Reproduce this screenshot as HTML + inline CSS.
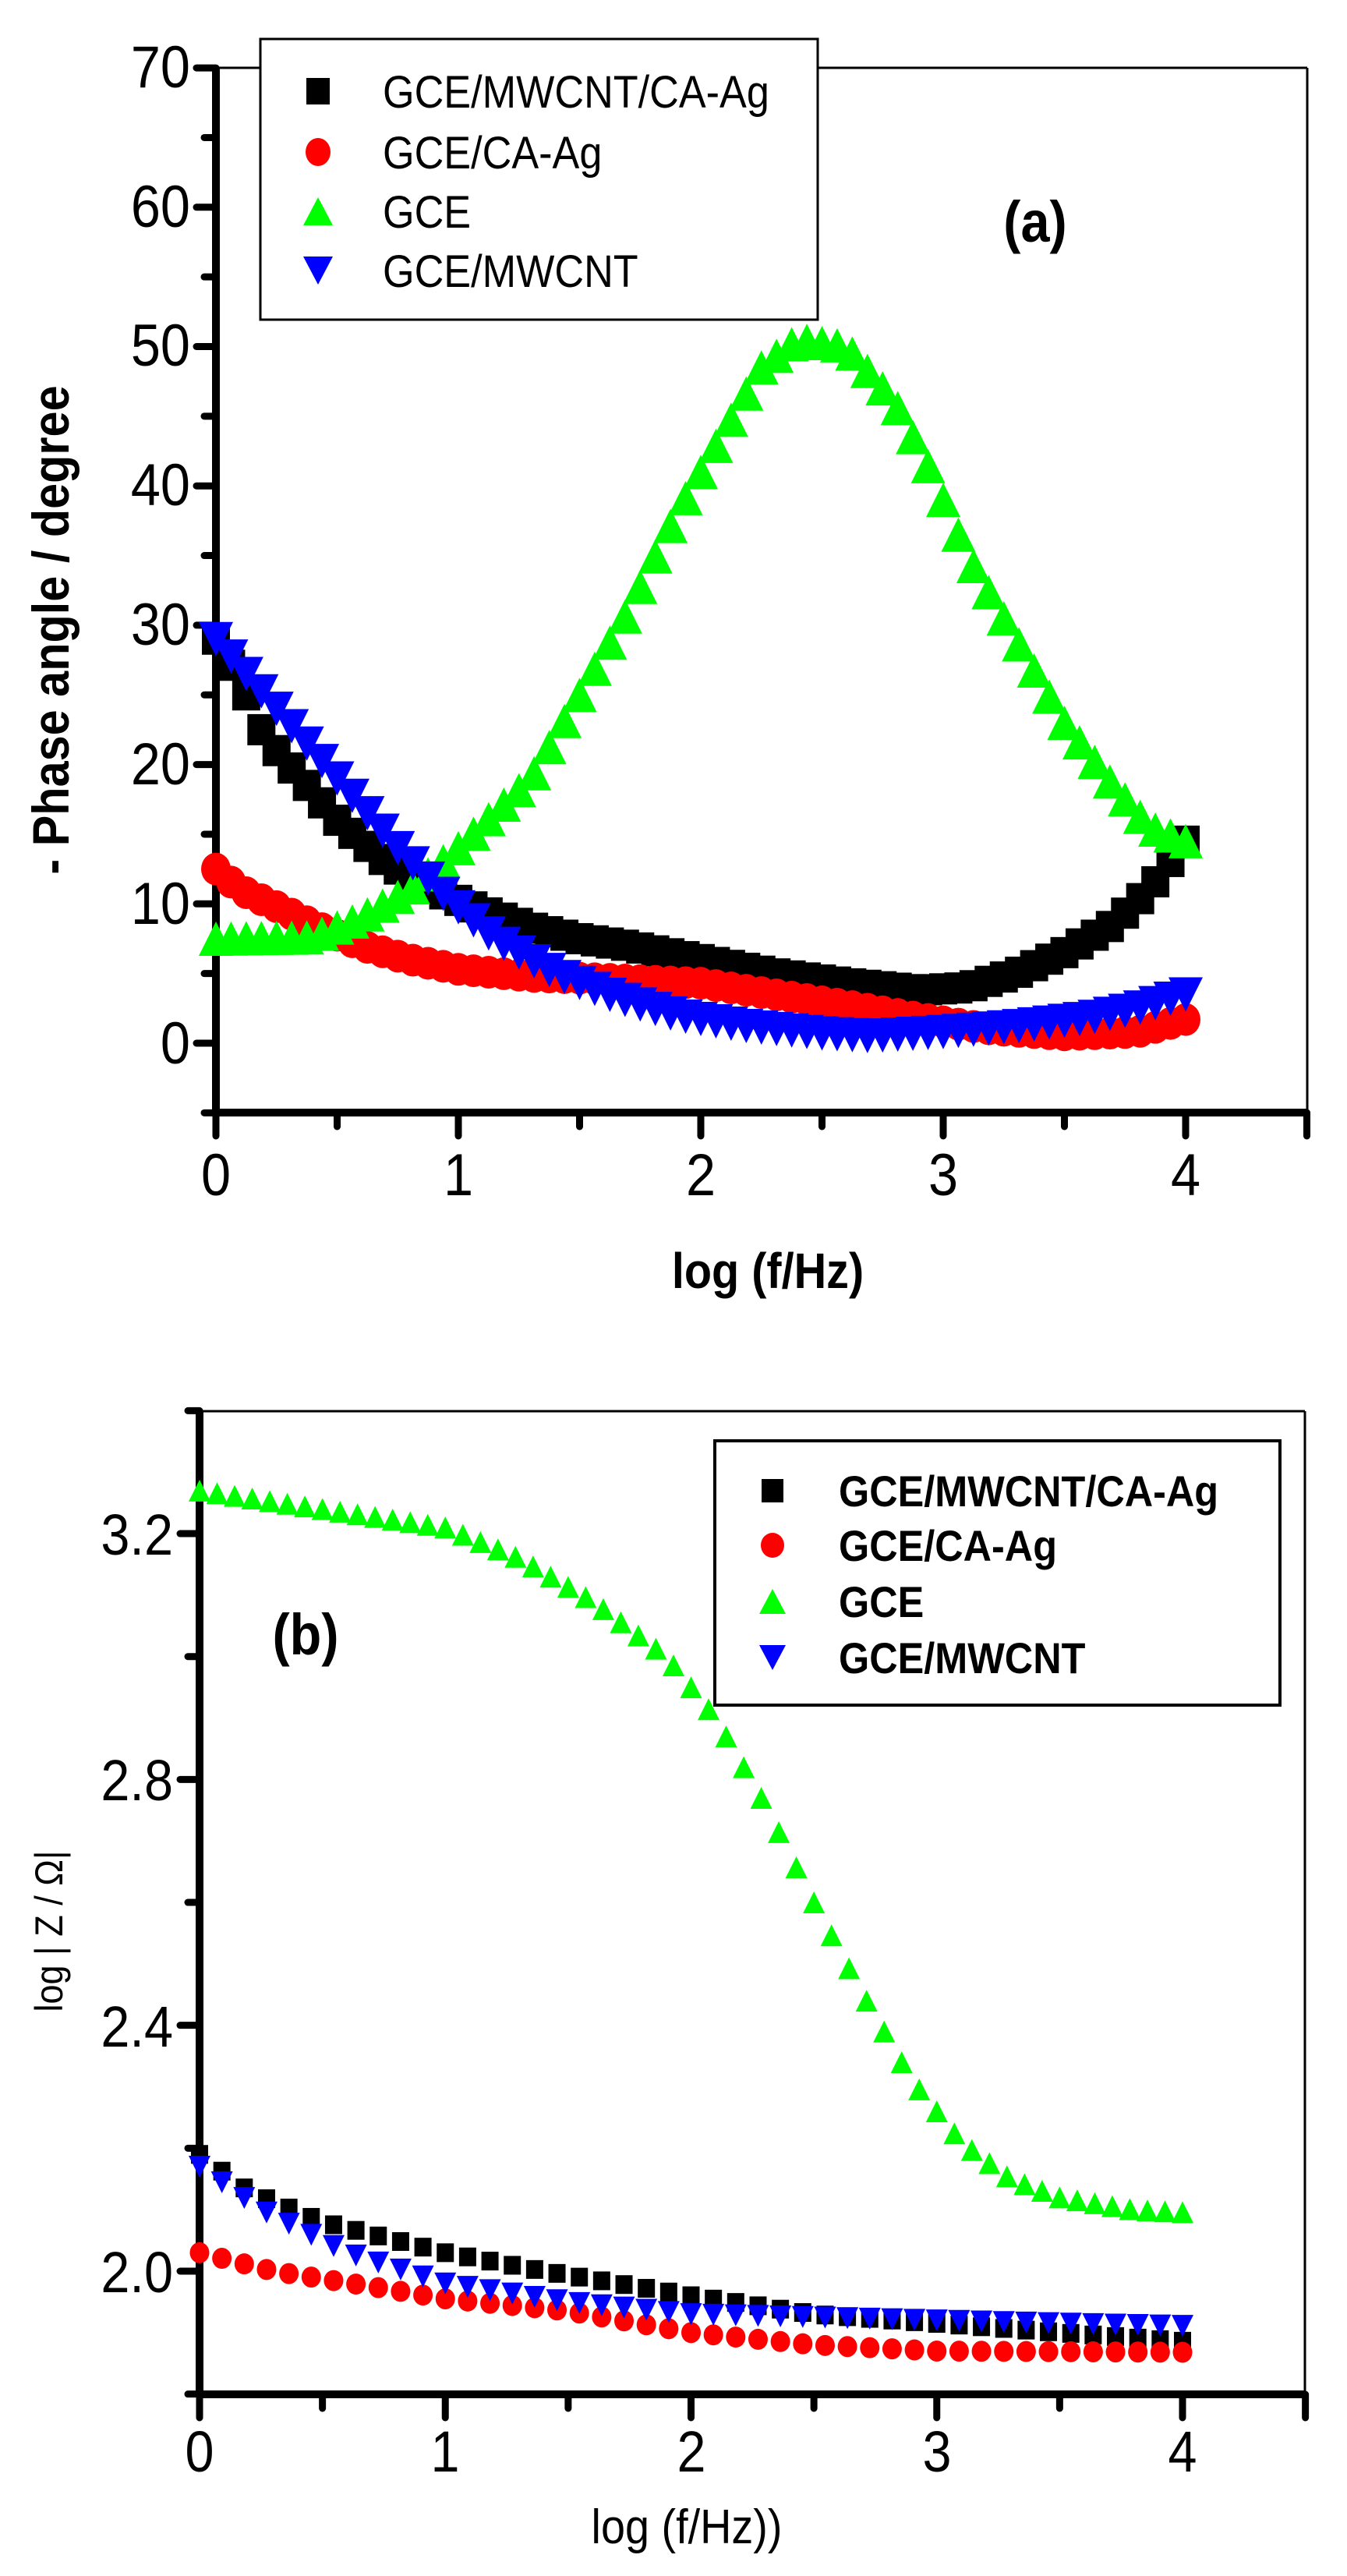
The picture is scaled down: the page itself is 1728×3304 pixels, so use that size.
<!DOCTYPE html>
<html><head><meta charset="utf-8">
<style>html,body{margin:0;padding:0;background:#fff}svg{display:block}</style></head>
<body>
<svg id="s" width="1728" height="3304" viewBox="0 0 1728 3304" xmlns="http://www.w3.org/2000/svg" font-family="Liberation Sans, Arial, sans-serif">
<rect width="1728" height="3304" fill="#fff"/>
<g id="g"></g>
<!-- Plot a text -->
<g font-size="76" text-anchor="end">
<text class="n" x="244" y="112">70</text><text class="n" x="244" y="291">60</text><text class="n" x="244" y="469">50</text><text class="n" x="244" y="648">40</text><text class="n" x="244" y="827">30</text><text class="n" x="244" y="1006">20</text><text class="n" x="244" y="1185">10</text><text class="n" x="244" y="1364">0</text>
</g>
<g font-size="76" text-anchor="middle">
<text class="n" x="277" y="1533">0</text><text class="n" x="588" y="1533">1</text><text class="n" x="899" y="1533">2</text><text class="n" x="1210" y="1533">3</text><text class="n" x="1521" y="1533">4</text>
</g>
<text class="n" x="985" y="1652" font-size="64" font-weight="bold" text-anchor="middle">log (f/Hz)</text>
<text class="n" transform="translate(88,808) rotate(-90)" font-size="66" font-weight="bold" text-anchor="middle">- Phase angle / degree</text>
<text class="n" x="1328" y="310" font-size="74" font-weight="bold" text-anchor="middle">(a)</text>
<rect x="334" y="50" width="715" height="360" fill="#fff" stroke="#000" stroke-width="3"/>
<g font-size="58">
<text class="n" x="491" y="138">GCE/MWCNT/CA-Ag</text>
<text class="n" x="491" y="216">GCE/CA-Ag</text>
<text class="n" x="491" y="292">GCE</text>
<text class="n" x="491" y="368">GCE/MWCNT</text>
</g>
<!-- Plot b text -->
<g font-size="74" text-anchor="end">
<text class="n" x="222" y="1994">3.2</text><text class="n" x="222" y="2309">2.8</text><text class="n" x="222" y="2625">2.4</text><text class="n" x="222" y="2940">2.0</text>
</g>
<g font-size="74" text-anchor="middle">
<text class="n" x="256" y="3170">0</text><text class="n" x="571" y="3170">1</text><text class="n" x="887" y="3170">2</text><text class="n" x="1202" y="3170">3</text><text class="n" x="1517" y="3170">4</text>
</g>
<text class="n" x="881" y="3262" font-size="62" text-anchor="middle">log (f/Hz))</text>
<text class="n" transform="translate(80,2477) rotate(-90)" font-size="50" text-anchor="middle">log | Z / Ω|</text>
<text class="n" x="392" y="2122" font-size="74" font-weight="bold" text-anchor="middle">(b)</text>
<rect x="917" y="1848" width="725" height="339" fill="#fff" stroke="#000" stroke-width="4"/>
<g font-size="56" font-weight="bold">
<text class="n" x="1076" y="1932">GCE/MWCNT/CA-Ag</text>
<text class="n" x="1076" y="2002">GCE/CA-Ag</text>
<text class="n" x="1076" y="2074">GCE</text>
<text class="n" x="1076" y="2146">GCE/MWCNT</text>
</g>
<g id="g2"></g>
</svg>
<script>
var NS="http://www.w3.org/2000/svg";
var g=document.getElementById('g'), g2=document.getElementById('g2');
function el(p,t,a){var e=document.createElementNS(NS,t);for(var k in a)e.setAttribute(k,a[k]);p.appendChild(e);return e;}
function interp(pts,x){for(var i=0;i<pts.length-1;i++){if(x<=pts[i+1][0]){var a=pts[i],b=pts[i+1];var t=(x-a[0])/(b[0]-a[0]);return a[1]+t*(b[1]-a[1]);}}return pts[pts.length-1][1];}
function marker(p,type,cx,cy,w,h,col){
 if(type=='s')el(p,'rect',{x:cx-w/2,y:cy-h/2,width:w,height:h,fill:col});
 else if(type=='c')el(p,'ellipse',{cx:cx,cy:cy,rx:w/2,ry:h/2,fill:col});
 else if(type=='u')el(p,'polygon',{points:(cx-w/2)+','+(cy+h/2)+' '+(cx+w/2)+','+(cy+h/2)+' '+cx+','+(cy-h/2),fill:col});
 else el(p,'polygon',{points:(cx-w/2)+','+(cy-h/2)+' '+(cx+w/2)+','+(cy-h/2)+' '+cx+','+(cy+h/2),fill:col});
}
function axes(X0,Y0,R,T,xmaj,xmin,ymaj,ymin){
 el(g,'line',{x1:X0,y1:T,x2:R,y2:T,stroke:'#000','stroke-width':3});
 el(g,'line',{x1:R,y1:T,x2:R,y2:Y0,stroke:'#000','stroke-width':3});
 xmaj.forEach(function(x){el(g,'line',{x1:x,y1:Y0,x2:x,y2:Y0+30,stroke:'#000','stroke-width':9,'stroke-linecap':'round'});});
 xmin.forEach(function(x){el(g,'line',{x1:x,y1:Y0,x2:x,y2:Y0+18,stroke:'#000','stroke-width':9,'stroke-linecap':'round'});});
 ymaj.forEach(function(y){el(g,'line',{x1:X0,y1:y,x2:X0-25,y2:y,stroke:'#000','stroke-width':9,'stroke-linecap':'round'});});
 ymin.forEach(function(y){el(g,'line',{x1:X0,y1:y,x2:X0-15,y2:y,stroke:'#000','stroke-width':9,'stroke-linecap':'round'});});
 el(g,'line',{x1:X0,y1:T,x2:X0,y2:Y0,stroke:'#000','stroke-width':10});
 el(g,'line',{x1:X0,y1:Y0,x2:R,y2:Y0,stroke:'#000','stroke-width':10});
}
// Plot a
var ax=function(x){return 277+x*311;}, ay=function(v){return 1338-v*17.87;};
var xm=[],xn=[],ym=[],yn=[];
for(var i=0;i<=4;i++)xm.push(ax(i));xm.push(ax(4.5));
for(var i=0;i<4;i++)xn.push(ax(i+0.5));
for(var v=-5;v<=70;v+=5){if(v%10==0)ym.push(ay(v));else yn.push(ay(v));}
axes(277,1427,1677,87,xm,xn,ym,yn);
var A={
 k:[[0,29],[0.1,26],[0.2,22],[0.35,19],[0.5,16],[0.7,13],[0.9,11],[1.1,9.5],[1.3,8.3],[1.5,7.5],[1.7,7],[2,6],[2.3,5],[2.6,4.3],[2.9,3.8],[3.1,4],[3.3,5],[3.5,6.5],[3.7,8.5],[3.85,11],[4,14.5]],
 r:[[0,12.5],[0.1,11],[0.25,9.8],[0.4,8.5],[0.6,7],[0.8,6],[1,5.3],[1.3,4.8],[1.6,4.6],[2,4.3],[2.3,3.5],[2.6,2.7],[2.9,1.8],[3.2,1],[3.5,0.6],[3.8,0.8],[4,1.7]],
 g:[[0,7.5],[0.4,7.6],[0.6,9],[0.8,11],[1,14],[1.3,19],[1.5,25],[1.7,31],[1.9,38],[2.1,44],[2.25,48.5],[2.4,50.5],[2.6,50],[2.8,46],[2.95,41],[3.1,35],[3.3,29],[3.5,23],[3.7,18.5],[3.85,15.5],[4,14.5]],
 b:[[0,29],[0.15,26],[0.35,22],[0.55,18],[0.75,14],[0.95,10.5],[1.15,7.5],[1.4,5],[1.65,3.3],[1.9,2],[2.2,1.2],[2.5,0.7],[2.7,0.5],[3,0.8],[3.3,1.2],[3.6,1.8],[3.8,2.5],[4,3.5]]};
var N=64;
[['k','s','#000',36,40],['r','c','#f00',38,42],['g','u','#0f0',44,44],['b','d','#00f',44,44]].forEach(function(s){
 for(var i=0;i<=N;i++){var x=4*i/N;marker(g,s[1],ax(x),ay(interp(A[s[0]],x)),s[3],s[4],s[2]);}
});
// Plot b
var bx=function(x){return 256+x*315.25;}, by=function(v){return 2913-(v-2)*788.3;};
xm=[];xn=[];ym=[];yn=[];
for(var i=0;i<=4;i++)xm.push(bx(i));xm.push(bx(4.5));
for(var i=0;i<4;i++)xn.push(bx(i+0.5));
[3.2,2.8,2.4,2.0].forEach(function(v){ym.push(by(v));});
[3.4,3.0,2.6,2.2,1.8].forEach(function(v){yn.push(by(v));});
axes(256,3071,1674,1810,xm,xn,ym,yn);
var B={
 k:[[0,2.19],[0.2,2.13],[0.5,2.08],[1,2.03],[1.4,2.0],[2,1.96],[2.5,1.93],[3,1.915],[3.5,1.9],[4,1.886]],
 r:[[0,2.03],[0.3,2.0],[0.7,1.975],[1,1.955],[1.5,1.935],[2,1.9],[2.5,1.88],[3,1.87],[4,1.868]],
 g:[[0,3.27],[0.5,3.24],[1,3.21],[1.3,3.16],[1.6,3.09],[1.9,3.0],[2.1,2.9],[2.3,2.76],[2.5,2.6],[2.7,2.45],[2.9,2.31],[3.1,2.21],[3.3,2.15],[3.5,2.12],[3.8,2.1],[4,2.096]],
 b:[[0,2.17],[0.25,2.1],[0.6,2.03],[1,1.98],[1.5,1.95],[2,1.93],[2.5,1.925],[3,1.92],[3.5,1.915],[4,1.911]]};
var M=44;
[['k','s','#000',22,24],['r','c','#f00',25,27],['b','d','#00f',28,28],['g','u','#0f0',28,28]].forEach(function(s){
 var n=s[0]=='g'?56:M;
 for(var i=0;i<=n;i++){var x=4*i/n;marker(g,s[1],bx(x),by(interp(B[s[0]],x)),s[3],s[4],s[2]);}
});
// legend markers
marker(g2,'s',408,117,30,34,'#000');marker(g2,'c',408,195,32,36,'#f00');marker(g2,'u',408,271,38,36,'#0f0');marker(g2,'d',408,347,38,36,'#00f');
marker(g2,'s',991,1912,28,30,'#000');marker(g2,'c',991,1982,30,32,'#f00');marker(g2,'u',991,2054,34,32,'#0f0');marker(g2,'d',991,2126,34,32,'#00f');
// condense text
var ts=document.querySelectorAll('text.n');
for(var i=0;i<ts.length;i++){var L=ts[i].getComputedTextLength();if(L>0){ts[i].setAttribute('textLength',(L*0.9).toFixed(1));ts[i].setAttribute('lengthAdjust','spacingAndGlyphs');}}
</script>
</body></html>
